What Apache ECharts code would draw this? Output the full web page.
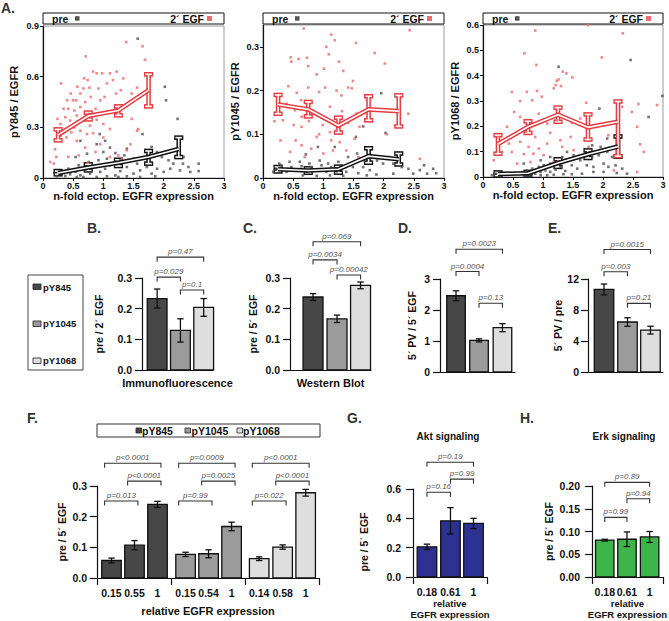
<!DOCTYPE html>
<html><head><meta charset="utf-8">
<script src="https://cdn.jsdelivr.net/npm/echarts@6/dist/echarts.min.js"></script>
<style>html,body{margin:0;padding:0;background:#fff}#c{width:669px;height:621px}</style>
</head><body><div id="c"></div><script>
// ===================== DATA =====================
const expressionTicks = ['0','0.5','1','1.5','2','2.5','3'];
// Panel A1 : pY845 / EGFR
const a1Egf = [[1.38,0.805],[1.65,0.78],[1.69,0.70],[0.71,0.72],[0.30,0.56],[0.83,0.63],[0.89,0.62],[0.98,0.62],[1.11,0.62],[1.22,0.63],[0.92,0.53],[1.06,0.56],[1.16,0.58],[0.68,0.59],[0.74,0.58],[0.62,0.50],[0.55,0.46],[0.67,0.53],[0.57,0.54],[0.77,0.535],[0.79,0.48],[0.46,0.50],[0.40,0.46],[0.50,0.46],[0.34,0.41],[0.42,0.41],[0.52,0.40],[0.62,0.42],[0.70,0.45],[0.87,0.41],[0.95,0.46],[1.02,0.48],[1.21,0.50],[1.33,0.59],[1.29,0.52],[1.47,0.50],[1.56,0.535],[0.24,0.35],[0.29,0.32],[0.37,0.36],[0.45,0.34],[0.56,0.37],[0.65,0.34],[0.76,0.38],[0.78,0.31],[0.89,0.345],[1.00,0.32],[0.62,0.28],[0.73,0.26],[0.39,0.24],[0.47,0.27],[0.56,0.22],[0.29,0.25],[0.20,0.17],[0.12,0.095],[0.18,0.085],[0.22,0.125],[0.42,0.125],[0.59,0.134],[0.74,0.09],[0.87,0.154],[1.11,0.124],[1.25,0.134],[1.31,0.114],[1.39,0.164],[1.56,0.28],[1.47,0.35],[1.11,0.29],[0.95,0.20],[1.45,0.20],[1.58,0.29],[0.70,0.18],[1.00,0.24],[0.52,0.30],[0.83,0.265]];
const a1Pre = [[1.57,0.825],[2.02,0.54],[2.04,0.46],[2.23,0.35],[1.65,0.26],[0.94,0.26],[0.89,0.20],[1.03,0.22],[0.62,0.22],[1.11,0.18],[0.73,0.144],[0.54,0.124],[1.00,0.154],[1.20,0.148],[1.35,0.134],[1.39,0.174],[1.50,0.114],[1.80,0.184],[1.89,0.154],[1.97,0.124],[2.08,0.105],[2.16,0.085],[2.33,0.124],[2.32,0.085],[2.41,0.065],[2.58,0.085],[2.58,0.041],[2.44,0.036],[2.27,0.045],[2.11,0.055],[2.00,0.036],[1.89,0.055],[1.80,0.026],[1.72,0.065],[1.61,0.045],[1.50,0.026],[1.39,0.065],[1.28,0.041],[1.20,0.016],[1.11,0.075],[1.03,0.055],[0.95,0.036],[0.87,0.065],[0.78,0.026],[0.70,0.045],[0.62,0.016],[0.54,0.036],[0.45,0.022],[0.37,0.012],[0.29,0.026],[0.23,0.01],[0.42,0.055],[0.59,0.075],[0.76,0.095],[0.92,0.105],[1.06,0.114],[1.20,0.085],[1.28,0.105],[1.56,0.085],[1.67,0.124],[0.67,0.006],[0.89,0.006],[1.06,0.01],[1.25,0.006],[1.39,0.01],[1.61,0.006],[1.86,0.01],[0.56,0.006]];
const a1EgfMean = [[0.25,0.255,0.223,0.288],[0.75,0.367,0.347,0.387],[1.25,0.40,0.371,0.424],[1.75,0.52,0.424,0.614]];
const a1PreMean = [[0.25,0.03,0.022,0.041],[0.75,0.062,0.045,0.081],[1.25,0.09,0.071,0.108],[1.75,0.124,0.085,0.16],[2.25,0.172,0.124,0.239]];
// Panel A2 : pY1045 / EGFR
const a2Egf = [[0.675,0.342],[1.13,0.328],[1.19,0.315],[1.54,0.309],[2.43,0.338],[0.46,0.276],[0.47,0.266],[0.59,0.272],[0.73,0.275],[0.75,0.256],[1.05,0.30],[1.09,0.283],[1.26,0.266],[1.33,0.245],[1.01,0.25],[1.85,0.286],[2.02,0.262],[0.89,0.237],[1.49,0.222],[1.41,0.207],[1.47,0.205],[0.42,0.21],[0.56,0.195],[0.75,0.207],[0.63,0.178],[0.93,0.197],[1.03,0.207],[1.22,0.20],[1.30,0.189],[0.39,0.17],[0.53,0.155],[0.64,0.14],[0.83,0.155],[0.94,0.144],[1.11,0.163],[1.31,0.153],[1.55,0.147],[1.72,0.178],[0.19,0.13],[0.33,0.132],[0.51,0.121],[0.64,0.117],[0.76,0.13],[0.99,0.121],[1.11,0.105],[0.93,0.10],[1.22,0.109],[1.41,0.126],[1.60,0.117],[0.54,0.086],[0.29,0.086],[0.45,0.06],[0.64,0.075],[0.80,0.067],[1.00,0.056],[1.13,0.086],[1.27,0.082],[1.38,0.063],[1.52,0.09],[0.89,0.094],[2.05,0.10],[2.41,0.147],[2.60,0.044],[0.69,0.048],[1.58,0.048],[1.16,0.063]];
const a2Pre = [[1.96,0.194],[2.03,0.103],[1.66,0.118],[1.54,0.094],[0.91,0.071],[0.71,0.054],[1.19,0.071],[1.41,0.048],[1.56,0.056],[1.67,0.04],[1.80,0.048],[1.89,0.04],[1.99,0.033],[2.08,0.048],[2.16,0.033],[2.30,0.025],[2.41,0.021],[2.49,0.01],[2.60,0.018],[2.67,0.029],[2.72,0.01],[2.82,0.021],[2.87,0.011],[1.49,0.025],[1.58,0.011],[1.66,0.025],[1.77,0.018],[1.88,0.008],[1.38,0.014],[1.30,0.021],[1.22,0.01],[1.13,0.025],[1.05,0.014],[0.97,0.029],[0.89,0.018],[0.80,0.025],[0.72,0.014],[0.64,0.027],[0.55,0.018],[0.47,0.025],[0.39,0.014],[0.30,0.029],[0.22,0.021],[0.17,0.014],[0.27,0.033],[0.44,0.037],[0.61,0.037],[0.77,0.033],[0.94,0.04],[1.08,0.033],[1.25,0.037],[0.66,0.006],[0.89,0.005],[1.11,0.006],[1.33,0.005],[1.72,0.006],[2.16,0.01]];
const a2EgfMean = [[0.25,0.168,0.147,0.19],[0.75,0.157,0.141,0.174],[1.25,0.12,0.104,0.138],[1.75,0.157,0.132,0.187],[2.25,0.153,0.118,0.189]];
const a2PreMean = [[0.25,0.02,0.015,0.025],[0.75,0.017,0.012,0.022],[1.25,0.02,0.012,0.026],[1.75,0.05,0.035,0.068],[2.25,0.043,0.031,0.056]];
// Panel A3 : pY1068 / EGFR
const a3Egf = [[1.75,0.60],[2.33,0.567],[0.87,0.578],[1.98,0.472],[0.69,0.488],[0.89,0.442],[1.33,0.416],[1.39,0.409],[1.49,0.393],[1.26,0.385],[1.23,0.38],[1.21,0.363],[1.30,0.359],[0.48,0.336],[0.73,0.336],[0.90,0.34],[1.18,0.35],[0.62,0.30],[0.82,0.303],[0.98,0.317],[1.72,0.293],[2.32,0.277],[2.59,0.288],[2.90,0.284],[2.48,0.257],[0.52,0.257],[0.62,0.237],[0.93,0.25],[1.07,0.211],[1.23,0.224],[1.48,0.214],[1.62,0.231],[0.40,0.198],[0.54,0.171],[0.71,0.178],[0.87,0.158],[1.12,0.174],[1.29,0.145],[1.46,0.158],[1.90,0.198],[2.09,0.165],[2.57,0.198],[0.26,0.158],[0.43,0.132],[0.62,0.139],[0.76,0.119],[0.93,0.112],[1.07,0.132],[0.32,0.099],[0.48,0.099],[0.68,0.09],[0.84,0.092],[1.01,0.086],[1.32,0.119],[1.51,0.106],[1.76,0.119],[2.68,0.099],[2.62,0.129],[2.18,0.026],[2.57,0.02],[0.57,0.053],[1.18,0.059],[0.18,0.066],[0.79,0.059]];
const a3Pre = [[1.26,0.435],[2.46,0.462],[2.99,0.32],[1.94,0.27],[2.76,0.237],[2.07,0.152],[1.82,0.125],[1.96,0.119],[2.07,0.099],[2.15,0.079],[1.93,0.086],[1.82,0.079],[1.68,0.079],[1.62,0.066],[1.51,0.086],[1.40,0.069],[1.32,0.079],[1.23,0.059],[1.12,0.053],[1.01,0.046],[0.93,0.04],[0.82,0.033],[0.73,0.026],[0.65,0.02],[0.54,0.016],[0.43,0.013],[0.32,0.011],[0.21,0.013],[0.15,0.007],[0.87,0.013],[0.96,0.02],[1.04,0.026],[1.12,0.02],[1.21,0.029],[1.29,0.04],[1.37,0.024],[1.48,0.046],[1.57,0.033],[1.73,0.046],[1.84,0.04],[2.01,0.053],[2.09,0.04],[2.21,0.046],[2.32,0.033],[2.40,0.013],[2.23,0.016],[0.68,0.007],[0.79,0.011],[0.96,0.007],[1.07,0.007],[1.18,0.009],[1.34,0.011],[1.48,0.011],[1.65,0.013],[1.84,0.02],[2.01,0.02],[0.96,0.066],[0.68,0.053],[1.12,0.079],[1.40,0.099]];
const a3EgfMean = [[0.25,0.13,0.092,0.165],[0.75,0.198,0.174,0.22],[1.25,0.246,0.218,0.274],[1.75,0.196,0.148,0.247],[2.25,0.218,0.082,0.298]];
const a3PreMean = [[0.25,0.012,0.006,0.018],[0.75,0.015,0.01,0.02],[1.25,0.055,0.04,0.07],[1.75,0.09,0.075,0.105],[2.25,0.12,0.08,0.16]];

const siteNames = ['pY845','pY1045','pY1068'];
// B - E
const bVals = [0.233,0.129,0.204], bSem = [0.031,0.038,0.029];
const cVals = [0.238,0.167,0.276], cSem = [0.011,0.012,0.011];
const dVals = [2.46,1.02,1.43],    dSem = [0.16,0.05,0.13];
const eVals = [10.65,6.45,5.4],    eSem = [0.7,0.55,0.5];
// F
const fVals = [0.057,0.107,0.240, 0.077,0.079,0.168, 0.063,0.101,0.278];
const fSem  = [0.008,0.015,0.010, 0.007,0.013,0.014, 0.006,0.007,0.011];
const fLabels = ['0.15','0.55','1','0.15','0.54','1','0.14','0.58','1'];
// G, H
const gVals = [0.206,0.383,0.365], gSem = [0.018,0.09,0.035];
const hVals = [0.081,0.083,0.088], hSem = [0.002,0.016,0.012];
const ghLabels = ['0.18','0.61','1'];
// significance brackets: [bar i, bar j, level, label]
const bBrackets = [[0,2,0.368,'p=0.47'],[0,1,0.303,'p=0.029'],[1,2,0.261,'p=0.1']];
const cBrackets = [[0,2,0.418,'p=0.069'],[0,1,0.359,'p=0.0034'],[1,2,0.31,'p=0.00042']];
const dBrackets = [[0,2,3.96,'p=0.0023'],[0,1,3.24,'p=0.0004'],[1,2,2.22,'p=0.13']];
const eBrackets = [[0,2,15.8,'p=0.0015'],[0,1,12.94,'p=0.003'],[1,2,8.86,'p=0.21']];
const fBrackets = [[0,2,0.374,'p<0.0001'],[1,2,0.316,'p<0.0001'],[0,1,0.251,'p=0.013'],
                   [3,5,0.374,'p=0.0009'],[4,5,0.316,'p=0.0025'],[3,4,0.251,'p=0.99'],
                   [6,8,0.374,'p<0.0001'],[7,8,0.316,'p<0.0001'],[6,7,0.251,'p=0.022']];
const gBrackets = [[0,2,0.782,'p=0.19'],[1,2,0.667,'p=0.99'],[0,1,0.578,'p=0.16']];
const hBrackets = [[0,2,0.208,'p=0.89'],[1,2,0.172,'p=0.94'],[0,1,0.131,'p=0.99']];

// ===================== STYLE / LAYOUT =====================
const FF = 'Liberation Sans';
const FONT = "'Liberation Sans', Arial, sans-serif";
const INK = '#111';
const siteColors = ['#474747','#9b9b9b','#dedede'];
const aktColor = '#2d3192', erkColor = '#3db54a';
const egfRed = '#e53b3f', dotRed = '#ec6b6e', dotGray = '#505050';

const grid = [], xAxis = [], yAxis = [], series = [], graphics = [];
let gi = 0;
function addGrid(g, extra) { grid.push(Object.assign({left:g[0], top:g[1], width:g[2], height:g[3]}, extra || {})); return gi++; }
const axLine = {show:true, onZero:false, lineStyle:{color:INK, width:1.2}};

function errSeries(i, mean, color, w, cap) {
  return {type:'custom', xAxisIndex:i, yAxisIndex:i, silent:true, clip:false, data:mean,
    renderItem:(p, api) => {
      const x = api.value(0), a = api.coord([x, api.value(2)]), b = api.coord([x, api.value(3)]);
      const st = {stroke:color, lineWidth:w, fill:'none'};
      return {type:'group', children:[
        {type:'line', shape:{x1:a[0], y1:a[1], x2:b[0], y2:b[1]}, style:st},
        {type:'line', shape:{x1:a[0]-cap, y1:a[1], x2:a[0]+cap, y2:a[1]}, style:st},
        {type:'line', shape:{x1:b[0]-cap, y1:b[1], x2:b[0]+cap, y2:b[1]}, style:st}]};
    }};
}
function lineSeries(i, mean, color, w) {
  return {type:'line', xAxisIndex:i, yAxisIndex:i, silent:true, symbol:'none', showSymbol:false,
    data:mean.map(d => [d[0], d[1]]), lineStyle:{color:color, width:w, join:'miter'}};
}
function scatterPanel(L, yName, pre, egf, preMean, egfMean) {
  const i = addGrid(L.grid, {show:true, borderColor:'#9a9a9a', borderWidth:1});
  xAxis.push({type:'value', gridIndex:i, min:0, max:3, interval:0.5, axisLine:axLine,
    axisTick:{show:true, length:3, lineStyle:{color:INK}},
    axisLabel:{fontSize:9, fontWeight:'bold', color:INK, fontFamily:FF, margin:3, formatter:v => expressionTicks[Math.round(v / 0.5)]},
    splitLine:{show:false}, name:'n-fold ectop. EGFR expression', nameLocation:'middle', nameGap:12,
    nameTextStyle:{fontSize:11, fontWeight:'bold', color:INK, fontFamily:FF}});
  yAxis.push({type:'value', gridIndex:i, min:0, max:L.yMax, interval:L.yInt, axisLine:axLine,
    axisTick:{show:true, length:3, lineStyle:{color:INK}},
    axisLabel:{fontSize:9, fontWeight:'bold', color:INK, fontFamily:FF, margin:4, showMaxLabel:L.showMax},
    splitLine:{show:false}, name:yName, nameLocation:'middle', nameGap:L.yNameGap,
    nameTextStyle:{fontSize:11, fontWeight:'bold', color:INK, fontFamily:FF}});
  series.push({type:'scatter', xAxisIndex:i, yAxisIndex:i, silent:true, data:pre, symbol:'rect', symbolSize:2.6, itemStyle:{color:dotGray}});
  series.push({type:'scatter', xAxisIndex:i, yAxisIndex:i, silent:true, data:egf, symbol:'rect', symbolSize:2.6, itemStyle:{color:dotRed}});
  [[preMean, INK], [egfMean, egfRed]].forEach(([m, c]) => {
    series.push(errSeries(i, m, c, 4.6, 4.6));
    series.push(lineSeries(i, m, c, 4.6));
    series.push(errSeries(i, m, '#fff', 1.6, 3.3));
    series.push(lineSeries(i, m, '#fff', 1.6));
  });
  const ox = L.grid[0], w = L.grid[2];
  graphics.push({type:'rect', shape:{x:ox, y:13, width:w, height:11}, style:{fill:'#fff', stroke:INK, lineWidth:1}});
  graphics.push({type:'text', x:ox + 9, y:18.5, style:{text:'pre', font:'bold 10.5px ' + FONT, fill:INK, textAlign:'left', align:'left', textVerticalAlign:'middle', verticalAlign:'middle'}});
  graphics.push({type:'rect', shape:{x:ox + 32, y:16.2, width:4.5, height:4.5}, style:{fill:'#555'}});
  graphics.push({type:'text', x:ox + w - 20, y:18.5, style:{text:'2´ EGF', font:'bold 10.5px ' + FONT, fill:INK, textAlign:'right', align:'right', textVerticalAlign:'middle', verticalAlign:'middle'}});
  graphics.push({type:'rect', shape:{x:ox + w - 17, y:16, width:5, height:5}, style:{fill:dotRed}});
}

function barPanel(L, vals, sem, colors, yName, xName, labels, brackets) {
  const i = addGrid(L.grid);
  const pos = L.pos;
  const nameStyle = {fontSize:L.xNameSize || 11, fontWeight:'bold', color:INK, fontFamily:FF, lineHeight:11};
  xAxis.push({type:'value', gridIndex:i, min:0, max:L.xMax, axisLine:axLine,
    axisTick: L.ticks ? {show:true, customValues:L.ticks, length:7, lineStyle:{color:INK, width:1.2}} : {show:false},
    axisLabel: labels ? {show:true, customValues:pos, fontSize:L.xLabelSize || 10.5, fontWeight:'bold', color:INK, fontFamily:FF, margin:9,
      formatter:v => { const k = pos.findIndex(p => Math.abs(p - v) < 1e-6); return k >= 0 ? labels[k] : ''; }} : {show:false},
    splitLine:{show:false}, name:xName, nameLocation:'middle', nameGap:L.xNameGap, nameTextStyle:nameStyle});
  yAxis.push({type:'value', gridIndex:i, min:0, max:L.yMax, interval:L.yInt, axisLine:axLine,
    axisTick:{show:true, length:7, lineStyle:{color:INK, width:1.2}},
    axisLabel:{fontSize:10.5, fontWeight:'bold', color:INK, fontFamily:FF, margin:L.yLabelMargin || 10, formatter:v => v.toFixed(L.yDec)},
    splitLine:{show:false}, name:yName, nameLocation:'middle', nameGap:L.yNameGap,
    nameTextStyle:{fontSize:10.5, fontWeight:'bold', color:INK, fontFamily:FF}});
  series.push({type:'custom', xAxisIndex:i, yAxisIndex:i, silent:true, clip:false,
    data:vals.map((v, k) => [pos[k], v, sem[k]]),
    renderItem:(p, api) => {
      const x = api.value(0), v = api.value(1), s = api.value(2), hw = L.barW / 2;
      const tl = api.coord([x - hw, v]), br = api.coord([x + hw, 0]);
      const et = api.coord([x, v + s]), eb = api.coord([x, v - s]), cap = 3.2;
      const st = {stroke:INK, lineWidth:1.3, fill:'none'};
      return {type:'group', children:[
        {type:'rect', shape:{x:tl[0], y:tl[1], width:br[0] - tl[0], height:br[1] - tl[1]}, style:{fill:colors[p.dataIndex], stroke:INK, lineWidth:1.3}},
        {type:'line', shape:{x1:et[0], y1:et[1], x2:eb[0], y2:eb[1]}, style:st},
        {type:'line', shape:{x1:et[0] - cap, y1:et[1], x2:et[0] + cap, y2:et[1]}, style:st},
        {type:'line', shape:{x1:eb[0] - cap, y1:eb[1], x2:eb[0] + cap, y2:eb[1]}, style:st}]};
    }});
  const bin = L.bIn || [0, 0];
  series.push({type:'custom', xAxisIndex:i, yAxisIndex:i, silent:true, clip:false,
    data:brackets.map(b => [pos[b[0]] + bin[0], pos[b[1]] + bin[1], b[2]]),
    renderItem:(p, api) => {
      const a = api.coord([api.value(0), api.value(2)]), b = api.coord([api.value(1), api.value(2)]), leg = 4.5;
      return {type:'group', children:[
        {type:'polyline', shape:{points:[[a[0], a[1] + leg], [a[0], a[1]], [b[0], b[1]], [b[0], b[1] + leg]]}, style:{stroke:'#333', lineWidth:1.1, fill:'none'}},
        {type:'text', x:(a[0] + b[0]) / 2, y:a[1] - 1.5, style:{text:brackets[p.dataIndex][3], fill:'#555', font:'italic 8px ' + FONT, textAlign:'center', align:'center', textVerticalAlign:'bottom', verticalAlign:'bottom'}}]};
    }});
}

// ---- scatter row ----
scatterPanel({grid:[43,26,181,152], yMax:0.9, yInt:0.3, yNameGap:24, showMax:true}, 'pY845 / EGFR', a1Pre, a1Egf, a1PreMean, a1EgfMean);
scatterPanel({grid:[263,25,181,153], yMax:0.35, yInt:0.1, yNameGap:23, showMax:false}, 'pY1045 / EGFR', a2Pre, a2Egf, a2PreMean, a2EgfMean);
scatterPanel({grid:[483,25,180,152], yMax:0.6, yInt:0.1, yNameGap:23, showMax:true}, 'pY1068 / EGFR', a3Pre, a3Egf, a3PreMean, a3EgfMean);
// ---- bar panels ----
barPanel({grid:[142,278,71,92], xMax:3.05, pos:[0.65,1.65,2.65], barW:0.85, yMax:0.3, yInt:0.1, yDec:1, yNameGap:38, xNameGap:7}, bVals, bSem, siteColors, 'pre / 2´ EGF', 'Immunofluorescence', null, bBrackets);
barPanel({grid:[290,278,81,92], xMax:3.41, pos:[0.97,1.98,2.97], barW:0.84, yMax:0.3, yInt:0.1, yDec:1, yNameGap:32, xNameGap:7}, cVals, cSem, siteColors, 'pre / 5´ EGF', 'Western Blot', null, cBrackets);
barPanel({grid:[440,279,75,93], xMax:3.23, pos:[0.69,1.68,2.69], barW:0.8, yMax:3, yInt:1, yDec:0, yNameGap:23, xNameGap:7}, dVals, dSem, siteColors, '5´ PV / 5´ EGF', '', null, dBrackets);
barPanel({grid:[588,279,75,93], xMax:3.23, pos:[0.69,1.70,2.69], barW:0.84, yMax:12, yInt:4, yDec:0, yNameGap:21, xNameGap:7, yLabelMargin:9}, eVals, eSem, siteColors, '5´ PV / pre', '', null, eBrackets);
const fColors = [0,0,0,1,1,1,2,2,2].map(k => siteColors[k]);
barPanel({grid:[97,486,222,92], xMax:9.65, pos:[0.63,1.63,2.63,3.85,4.85,5.85,7.05,8.07,9.07], barW:0.85, ticks:[0,3.22,6.43,9.65], yMax:0.3, yInt:0.1, yDec:1, yNameGap:30, xNameGap:27, bIn:[-0.3,0.15]}, fVals, fSem, fColors, 'pre / 5´ EGF', 'relative EGFR expression', fLabels, fBrackets);
barPanel({grid:[413,489,74,90], xMax:3.18, pos:[0.6,1.61,2.6], barW:0.84, ticks:[0,3.18], yMax:0.6, yInt:0.2, yDec:1, yNameGap:44, xNameGap:21, xNameSize:9.5, yLabelMargin:12}, gVals, gSem, [aktColor,aktColor,aktColor], '', 'relative\nEGFR expression', ghLabels, gBrackets);
barPanel({grid:[592,486,75,92], xMax:3.22, pos:[0.58,1.59,2.62], barW:0.84, ticks:[0,3.22], yMax:0.2, yInt:0.05, yDec:2, yNameGap:38, xNameGap:21, xNameSize:9.5, yLabelMargin:12}, hVals, hSem, [erkColor,erkColor,erkColor], 'pre / 5´ EGF', 'relative\nEGFR expression', ghLabels, hBrackets);

// ---- free text: panel letters, titles, legends ----
function txt(x, y, s, font, color, align) {
  graphics.push({type:'text', x:x, y:y, style:{text:s, font:font, fill:color || INK, textAlign:align || 'left', align:align || 'left', textVerticalAlign:'middle', verticalAlign:'middle'}});
}
const letterFont = 'bold 14px ' + FONT;
[['A.',1,8],['B.',87,228],['C.',243,228],['D.',398,228],['E.',548,228],['F.',27,418],['G.',347,418],['H.',520,418]].forEach(l => txt(l[1], l[2], l[0], letterFont, '#333'));
txt(448, 436, 'Akt signaling', 'bold 10px ' + FONT, INK, 'center');
txt(624, 436, 'Erk signaling', 'bold 10px ' + FONT, INK, 'center');
// G y-axis name
graphics.push({type:'text', x:364, y:542, rotation:Math.PI / 2, style:{text:'pre / 5´ EGF', font:'bold 10.5px ' + FONT, fill:INK, textAlign:'center', align:'center', textVerticalAlign:'middle', verticalAlign:'middle'}});
// middle legend
graphics.push({type:'rect', shape:{x:28, y:275, width:55, height:95}, style:{fill:'#fff', stroke:'#444', lineWidth:1}});
[[284,287],[321,323.5],[358,360.5]].forEach((p, k) => {
  graphics.push({type:'rect', shape:{x:33, y:p[0], width:8, height:5.5}, style:{fill:siteColors[k], stroke:'#222', lineWidth:0.8}});
  txt(43, p[1], siteNames[k], 'bold 9.5px ' + FONT);
});
// F legend
graphics.push({type:'rect', shape:{x:97, y:424, width:223, height:13}, style:{fill:'#fff', stroke:'#333', lineWidth:1}});
[[136,142],[185,191.5],[237,243]].forEach((p, k) => {
  graphics.push({type:'rect', shape:{x:p[0], y:428, width:5.5, height:5}, style:{fill:siteColors[k], stroke:'#222', lineWidth:0.8}});
  txt(p[1], 430.5, siteNames[k], 'bold 10.5px ' + FONT);
});

const chart = echarts.init(document.getElementById('c'), null, {renderer:'svg', width:669, height:621});
chart.setOption({animation:false, backgroundColor:'#fff', grid:grid, xAxis:xAxis, yAxis:yAxis, series:series, graphic:{elements:graphics}});
</script></body></html>
